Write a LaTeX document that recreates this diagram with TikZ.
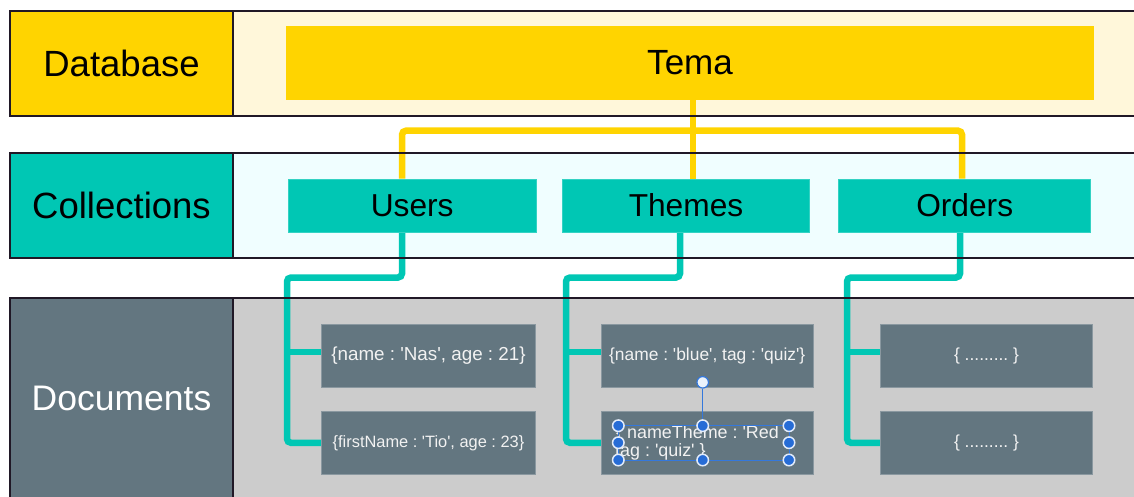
\documentclass[tikz,border=0pt]{standalone}
\usepackage{fontspec}
\setmainfont{Liberation Sans}
\definecolor{gold}{RGB}{255,212,0}
\definecolor{cream}{RGB}{255,247,218}
\definecolor{tealbox}{RGB}{0,199,180}
\definecolor{iceblue}{RGB}{240,254,255}
\definecolor{slate}{RGB}{99,118,128}
\definecolor{paper}{RGB}{204,204,204}
\definecolor{frame}{RGB}{32,24,38}
\definecolor{selblue}{RGB}{52,120,220}
\definecolor{handleblue}{RGB}{38,108,214}
\newcommand{\sqt}{\textquotesingle}
\frenchspacing
\begin{document}
\begin{tikzpicture}[x=1pt,y=-1pt,
  fs/.style={font=\fontsize{#1}{#1}\selectfont},
  bandedge/.style={draw=frame, line width=2.3pt},
  bandlabel/.style={draw=frame, line width=2.3pt, minimum width=223pt, inner sep=0pt},
  collbox/.style={fill=tealbox, draw=tealbox!80!white, line width=0.5pt, minimum height=53.3pt, inner sep=0pt, fs=31.7},
  docbox/.style={fill=slate, draw=slate!75!white, line width=0.6pt, minimum height=62.7pt, inner sep=0pt, text=white!95!black},
  yline/.style={gold, line width=6.5pt, rounded corners=4pt},
  tline/.style={tealbox, line width=6.5pt, rounded corners=4pt},
  handle/.style={circle, fill=handleblue, draw=white!85!selblue, line width=1.5pt, minimum size=11.5pt, inner sep=0pt},
  rothandle/.style={circle, fill=white!90!selblue, draw=selblue, line width=1.2pt, minimum size=11.5pt, inner sep=0pt}]
\useasboundingbox (0,0) rectangle (1134,496);
\clip (0,0) rectangle (1134,496);
\fill[white] (0,0) rectangle (1134,496);

% band backgrounds
\fill[cream]   (10,11)    rectangle (1145,116.2);
\fill[iceblue] (10,152.8) rectangle (1145,258);
\fill[paper]   (10,298)   rectangle (1145,498);

% connector bends
\coordinate (yT) at (693,130.7);
\coordinate (yU) at (402,130.7);
\coordinate (yO) at (962,130.7);
\coordinate (uTurn) at (402,277.5);
\coordinate (uBus)  at (287,277.5);
\coordinate (tTurn) at (680,277.5);
\coordinate (tBus)  at (566,277.5);
\coordinate (oTurn) at (960,277.5);
\coordinate (oBus)  at (847,277.5);

% boxes (placed first so the connectors can refer to them)
\node[fill=gold, minimum width=808pt, minimum height=74pt, inner sep=0pt] (tema) at (690,63) {};
\node[collbox, minimum width=247.7pt] (users)  at (412.2,205.6) {};
\node[collbox, minimum width=247.4pt] (themes) at (686,205.6) {};
\node[collbox, minimum width=252pt]   (orders) at (964.7,205.6) {};
\node[docbox, minimum width=214.4pt] (u1) at (428.5,355.7) {};
\node[docbox, minimum width=214.4pt] (u2) at (428.5,442.8) {};
\node[docbox, minimum width=212.3pt] (t1) at (707.2,355.7) {};
\node[docbox, minimum width=212.3pt] (t2) at (707.2,442.8) {};
\node[docbox, minimum width=212.4pt] (o1) at (986.5,355.7) {};
\node[docbox, minimum width=212.4pt] (o2) at (986.5,442.8) {};

% branch points on the first document of each collection
\coordinate (u1b) at ([yshift=3.5pt]u1.west);
\coordinate (t1b) at ([yshift=3.5pt]t1.west);
\coordinate (o1b) at ([yshift=3.5pt]o1.west);

% database to collections
\draw[yline] (tema.south -| yT) -- (yT) -- (themes.north -| yT);
\draw[yline] (users.north -| yU) -- (yU) -- (yO) -- (orders.north -| yO);

% collections to documents
\draw[tline] (users.south -| uTurn) -- (uTurn) -- (uBus) |- (u2.west);
\draw[tline] (uBus |- u1b) -- (u1b);
\draw[tline] (themes.south -| tTurn) -- (tTurn) -- (tBus) |- (t2.west);
\draw[tline] (tBus |- t1b) -- (t1b);
\draw[tline] (orders.south -| oTurn) -- (oTurn) -- (oBus) |- (o2.west);
\draw[tline] (oBus |- o1b) -- (o1b);

% boxes again on top of the connector ends, with their texts
\node[fill=gold, minimum width=808pt, minimum height=74pt, inner sep=0pt, fs=35] at (tema) {Tema};
\node[collbox, minimum width=247.7pt] at (users)  {Users};
\node[collbox, minimum width=247.4pt] at (themes) {Themes};
\node[collbox, minimum width=252pt]   at (orders) {Orders};
\node[docbox, minimum width=214.4pt, fs=18.8] at (u1) {\{name : \sqt Nas\sqt, age : 21\}};
\node[docbox, minimum width=214.4pt, fs=16.4] at (u2) {\{firstName : \sqt Tio\sqt, age : 23\}};
\node[docbox, minimum width=212.3pt, fs=17.4] at (t1) {\{name : \sqt blue\sqt, tag : \sqt quiz\sqt\}};
\node[docbox, minimum width=212.3pt] at (t2) {};
\node[docbox, minimum width=212.4pt, fs=17.4] at (o1) {\{ ......... \}};
\node[docbox, minimum width=212.4pt, fs=17.4] at (o2) {\{ ......... \}};

% band outlines
\draw[bandedge] (1145,11) -- (10,11) -- (10,116.2) -- (1145,116.2);
\draw[bandedge] (1145,152.8) -- (10,152.8) -- (10,258) -- (1145,258);
\draw[bandedge] (1145,298) -- (10,298) -- (10,498);

% band labels
\node[bandlabel, fill=gold, minimum height=105.2pt, fs=36.5] (dblabel) at (121.5,63.6) {Database};
\node[bandlabel, fill=tealbox, minimum height=105.2pt, fs=36.5] (colllabel) at (121.5,205.4) {Collections};
\node[bandlabel, fill=slate, text=white, minimum height=200pt, fs=35.5] (doclabel) at (121.5,398) {Documents};

% text being edited in the last theme document
\node[anchor=base west, inner sep=0pt, text=white!95!black, fs=17.9] (edit1) at (616,438.5) {\{ nameTheme : \sqt Red};
\node[anchor=base west, inner sep=0pt, text=white!95!black, fs=17.9] (edit2) at (615,456.7) {tag : \sqt quiz\sqt\ \}};

% selection frame with its handles
\draw[selblue, line width=1pt] (618.3,425.7) rectangle (789,460);
\node[handle] (hTL) at (618.3,425.7) {};
\node[handle] (hTM) at (702.7,425.7) {};
\node[handle] (hTR) at (789,425.7) {};
\node[handle] (hML) at (618.3,442.7) {};
\node[handle] (hMR) at (789,442.7) {};
\node[handle] (hBL) at (618.3,460) {};
\node[handle] (hBM) at (702.7,460) {};
\node[handle] (hBR) at (789,460) {};
\node[rothandle] (hRot) at (702.7,382.3) {};
\draw[selblue, line width=0.9pt] (hRot) -- (hTM);
\end{tikzpicture}
\end{document}
